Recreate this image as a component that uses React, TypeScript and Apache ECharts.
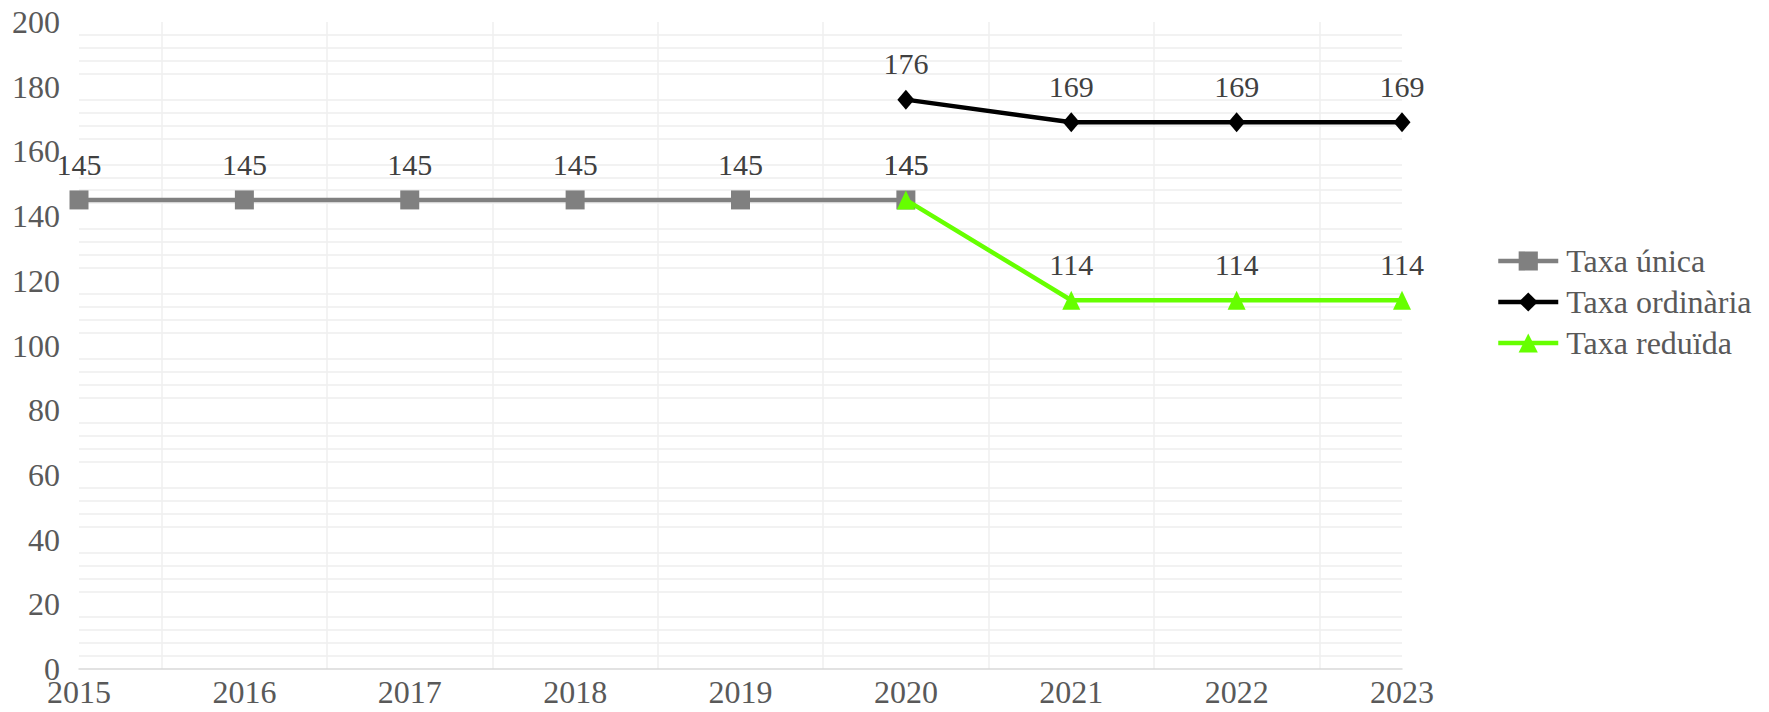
import React, { useEffect, useRef } from "react";
import * as echarts from "echarts";

const years = ["2015", "2016", "2017", "2018", "2019", "2020", "2021", "2022", "2023"];
const taxaUnica = [145, 145, 145, 145, 145, 145, null, null, null];
const taxaOrdinaria = [null, null, null, null, null, 176, 169, 169, 169];
const taxaReduida = [null, null, null, null, null, 145, 114, 114, 114];
const seriesNames = ["Taxa única", "Taxa ordinària", "Taxa reduïda"];

const FONT = "'Liberation Serif', 'Times New Roman', serif";

export default function App() {
  const ref = useRef<HTMLDivElement>(null);
  useEffect(() => {
    if (!ref.current) return;
    const chart = echarts.init(ref.current, undefined, { renderer: "svg" });
    const label = {
      show: true,
      position: "top",
      distance: 11,
      fontSize: 30,
      fontFamily: FONT,
      color: "#404040",
    };
    chart.setOption({
      animation: false,
      backgroundColor: "#ffffff",
      grid: { left: 79, right: 367, top: 22, bottom: 43 },
      legend: {
        orient: "vertical",
        left: 1491,
        top: 240,
        itemWidth: 60,
        itemHeight: 24,
        itemGap: 9,
        lineStyle: { width: 4.5 },
        textStyle: {
          fontSize: 32,
          fontFamily: FONT,
          color: "#595959",
          lineHeight: 32,
          padding: [0, 0, 0, 3],
        },
        data: seriesNames,
      },
      xAxis: [
        {
          type: "category",
          data: years,
          boundaryGap: false,
          axisLine: { show: true, lineStyle: { color: "#d9d9d9", width: 1.5 } },
          axisTick: { show: false },
          splitLine: { show: false },
          axisLabel: {
            fontSize: 32,
            fontFamily: FONT,
            color: "#595959",
            margin: 7,
          },
        },
        {
          type: "value",
          min: 0,
          max: years.length - 1,
          interval: 1,
          position: "bottom",
          axisLine: { show: false },
          axisTick: { show: false },
          axisLabel: { show: false },
          splitLine: { show: false },
          minorTick: { show: false, splitNumber: 2 },
          minorSplitLine: { show: true, lineStyle: { color: "#efefef", width: 1.5 } },
        },
      ],
      yAxis: {
        type: "value",
        min: 0,
        max: 200,
        interval: 20,
        axisLine: { show: false },
        axisTick: { show: false },
        splitLine: { show: false },
        minorTick: { show: false, splitNumber: 5 },
        minorSplitLine: { show: true, lineStyle: { color: "#eeeeee", width: 1.5 } },
        axisLabel: {
          fontSize: 32,
          fontFamily: FONT,
          color: "#595959",
          margin: 19,
          padding: [6, 0, 0, 0],
        },
      },
      series: [
        {
          name: seriesNames[0],
          type: "line",
          xAxisIndex: 0,
          data: taxaUnica,
          symbol: "rect",
          symbolSize: 19,
          lineStyle: { color: "#808080", width: 4.5 },
          itemStyle: { color: "#808080" },
          label,
          z: 2,
        },
        {
          name: seriesNames[1],
          type: "line",
          xAxisIndex: 0,
          data: taxaOrdinaria,
          symbol: "diamond",
          symbolSize: [17, 20],
          lineStyle: { color: "#000000", width: 4.5 },
          itemStyle: { color: "#000000" },
          label,
          z: 3,
        },
        {
          name: seriesNames[2],
          type: "line",
          xAxisIndex: 0,
          data: taxaReduida,
          symbol: "triangle",
          symbolSize: [18, 19],
          lineStyle: { color: "#66ff00", width: 4.5 },
          itemStyle: { color: "#66ff00" },
          label,
          z: 4,
        },
      ],
    });
    return () => chart.dispose();
  }, []);
  return (
    <div
      ref={ref}
      style={{ position: "absolute", left: 0, top: 0, width: 1769, height: 712 }}
    />
  );
}
